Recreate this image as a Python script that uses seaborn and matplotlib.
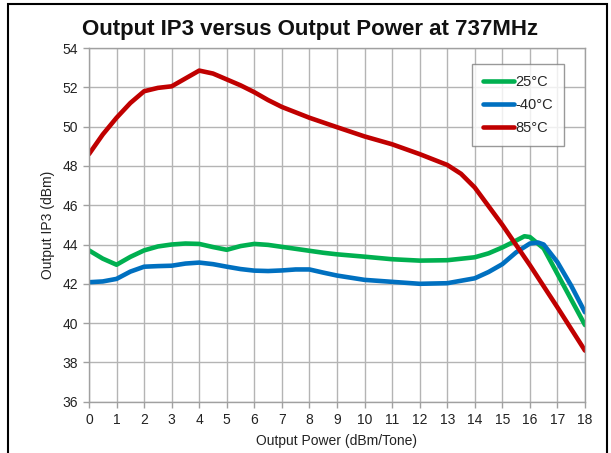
import matplotlib
matplotlib.use("Agg")
import matplotlib.pyplot as plt
import seaborn as sns
import pandas as pd
from matplotlib.patches import Rectangle

# ---- data ----
x_25 = [0, 0.5, 1, 1.5, 2, 2.5, 3, 3.5, 4, 4.5, 5, 5.5, 6, 6.5, 7, 7.5, 8, 8.5, 9,
        10, 11, 12, 13, 14, 14.5, 15, 15.5, 15.8, 16, 16.5, 17, 17.5, 18]
y_25 = [43.7, 43.28, 42.97, 43.37, 43.7, 43.9, 44.0, 44.05, 44.03, 43.87, 43.73, 43.92,
        44.03, 43.98, 43.88, 43.78, 43.68, 43.58, 43.5,
        43.38, 43.25, 43.18, 43.2, 43.35, 43.55, 43.85, 44.2, 44.42, 44.38, 43.8, 42.5, 41.2, 39.9]

x_m40 = [0, 0.5, 1, 1.5, 2, 2.5, 3, 3.5, 4, 4.5, 5, 5.5, 6, 6.5, 7, 7.5, 8, 8.5, 9,
         10, 11, 12, 13, 14, 14.5, 15, 15.5, 16, 16.3, 16.5, 17, 17.5, 18]
y_m40 = [42.08, 42.12, 42.25, 42.62, 42.87, 42.9, 42.92, 43.03, 43.08, 43.0, 42.87, 42.75,
         42.67, 42.65, 42.68, 42.73, 42.73, 42.57, 42.42,
         42.2, 42.1, 42.0, 42.03, 42.28, 42.6, 43.0, 43.6, 44.05, 44.1, 44.0, 43.1, 41.9, 40.55]

x_85 = [0, 0.5, 1, 1.5, 2, 2.5, 3, 3.5, 4, 4.5, 5, 5.5, 6, 6.5, 7, 8, 9, 10, 11, 12,
        13, 13.5, 14, 15, 16, 17, 18]
y_85 = [48.6, 49.6, 50.45, 51.2, 51.8, 51.97, 52.05, 52.45, 52.85, 52.7, 52.4, 52.1, 51.75,
        51.35, 51.0, 50.45, 49.97, 49.5, 49.1, 48.6, 48.05, 47.6, 46.9, 45.0, 42.95, 40.8, 38.6]

labels = ["25°C", "-40°C", "85°C"]
colors = ["#00B050", "#0070C0", "#C00000"]
x_ticks = list(range(0, 19))
y_ticks = list(range(36, 55, 2))

title = "Output IP3 versus Output Power at 737MHz"
xlabel = "Output Power (dBm/Tone)"
ylabel = "Output IP3 (dBm)"

# ---- build table ----
frames = []
for lab, xs, ys in zip(labels, [x_25, x_m40, x_85], [y_25, y_m40, y_85]):
    frames.append(pd.DataFrame({"x": xs, "y": ys, "series": lab}))
df = pd.concat(frames, ignore_index=True)

sns.set_theme(style="white")
plt.rcParams["font.family"] = ["Liberation Sans", "DejaVu Sans"]

fig = plt.figure(figsize=(6.11, 4.53), dpi=100)
ax = fig.add_axes([89 / 611, 1 - 401.7 / 453, (585 - 89) / 611, (401.7 - 48) / 453])

sns.lineplot(data=df, x="x", y="y", hue="series", hue_order=labels,
             palette=dict(zip(labels, colors)), estimator=None, sort=False,
             linewidth=3.3, ax=ax, legend=True)
for ln in ax.get_lines():
    ln.set_solid_capstyle("round")
    ln.set_solid_joinstyle("round")

ax.set_xlim(0, 18)
ax.set_ylim(36, 54)
ax.set_xticks(x_ticks)
ax.set_yticks(y_ticks)
ax.grid(True, color="#b4b4b4", linewidth=1.0)
ax.set_axisbelow(True)
for s in ax.spines.values():
    s.set_color("#a0a0a0")
    s.set_linewidth(1.0)
ax.tick_params(axis="both", which="major", length=4, width=1, color="#a0a0a0",
               labelsize=10, labelcolor="#222222", pad=4, left=True, bottom=True)
ax.set_xlabel(xlabel, fontsize=10, color="#222222", labelpad=5)
ax.set_ylabel(ylabel, fontsize=10, color="#222222", labelpad=5)

handles, labs = ax.get_legend_handles_labels()
leg = ax.legend(handles, labs, loc="upper right",
                bbox_to_anchor=((564 - 89) / 496, (401.7 - 64) / 353.7),
                borderaxespad=0, fontsize=10.5, handlelength=2.1, handletextpad=0.1,
                labelspacing=0.62, frameon=True, fancybox=False, borderpad=0.75)
leg.get_frame().set_edgecolor("#808080")
leg.get_frame().set_linewidth(1.0)
for lh in leg.get_lines():
    lh.set_linewidth(3.3)

fig.text(310 / 611, 1 - 29 / 453, title, ha="center", va="center",
         fontsize=16, fontweight="bold", color="#111111")

fig.patches.append(Rectangle((8 / 611, -0.02), (607 - 8) / 611, 1 - 4 / 453 + 0.02,
                             transform=fig.transFigure, fill=False, edgecolor="black",
                             linewidth=1.5, clip_on=False))

fig.savefig("out.png", dpi=100)
